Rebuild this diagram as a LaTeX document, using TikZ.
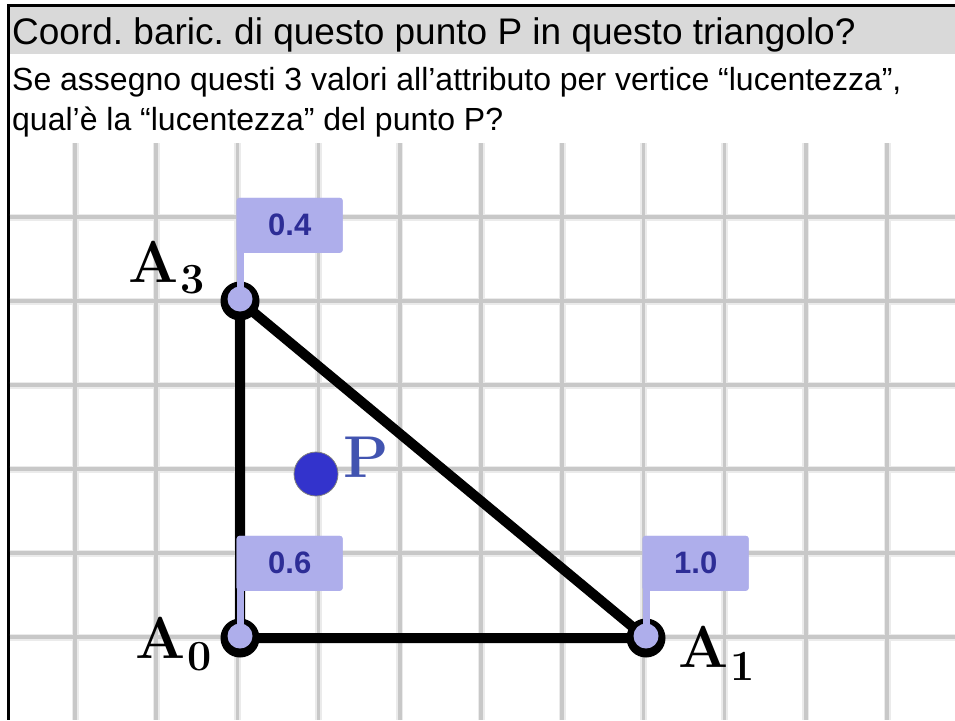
\documentclass[tikz,border=0pt]{standalone}
\usepackage{fontspec}
\newfontfamily\arialfont{Liberation Sans}
\usetikzlibrary{positioning}
\frenchspacing

\definecolor{bandgray}{RGB}{217,217,217}
\definecolor{gridgray}{RGB}{200,200,200}
\definecolor{gridhalo}{RGB}{235,235,235}
\definecolor{flagfill}{RGB}{174,174,235}
\definecolor{flagtext}{RGB}{45,45,150}
\definecolor{pdot}{RGB}{51,51,204}
\definecolor{plabel}{RGB}{66,84,176}

\tikzset{
  halo/.style={gridhalo, line width=7pt},
  gridline/.style={gridgray, line width=3.5pt},
  edge/.style={line width=10pt, line join=round},
  flag/.style={fill=flagfill, rounded corners=3pt, minimum width=106pt, minimum height=55pt,
    inner sep=0pt, text=flagtext, font=\arialfont\bfseries\fontsize{31}{32}\selectfont},
  pole/.style={flagfill, line width=7pt},
  vlabel/.style={inner sep=0pt, font=\bfseries\fontsize{59}{60}\selectfont},
  question/.style={anchor=base west, inner sep=0pt}
}

\begin{document}
\begin{tikzpicture}[x=1pt, y=-1pt]
  \useasboundingbox (0,0) rectangle (955,720);

  % Header band and frame
  \fill[bandgray] (8,7) rectangle (955,54);
  \draw[line width=3pt] (955,5) -- (8,5) -- (8,720);
  \node[question, font=\arialfont\fontsize{37}{40}\selectfont] (title) at (12,44)
    {Coord. baric. di questo punto P in questo triangolo?};
  \node[question, font=\arialfont\fontsize{32}{40}\selectfont] (line1) at (12,90)
    {Se assegno questi 3 valori all’attributo per vertice “lucentezza”,};
  \node[question, font=\arialfont\fontsize{32}{40}\selectfont] (line2) at (12,130)
    {qual’è la “lucentezza” del punto P?};

  % Grid paper
  \foreach \i in {0,...,10} {
    \draw[halo] (75+81.2*\i,143) -- (75+81.2*\i,720);
  }
  \foreach \j in {0,...,5} {
    \draw[halo] (9.5,217+84*\j) -- (955,217+84*\j);
  }
  \foreach \i in {0,...,10} {
    \draw[gridline] (75+81.2*\i,143) -- (75+81.2*\i,720);
  }
  \foreach \j in {0,...,5} {
    \draw[gridline] (9.5,217+84*\j) -- (955,217+84*\j);
  }

  % Define the vertices of the triangle
  \coordinate (A0) at (240,638);
  \coordinate (A1) at (646,638);
  \coordinate (A3) at (240,301);

  % Draw the triangle
  \draw[edge] (A0) -- (A1) -- (A3) -- cycle;
  \foreach \v in {A0,A1,A3} {
    \fill[black] (\v) circle (19.5);
  }

  % Flags with the attribute values
  \node[flag, above right=47pt and -3.5pt of A0] (f0) {0.6};
  \node[flag, above right=47pt and -3.5pt of A1] (f1) {1.0};
  \node[flag, above right=48pt and -3.5pt of A3] (f3) {0.4};
  \draw[pole] (A0) -- (A0 |- f0.center);
  \draw[pole] (A1) -- (A1 |- f1.center);
  \draw[pole] (A3) -- (A3 |- f3.center);
  \node[flag, above right=47pt and -3.5pt of A0] {0.6};
  \node[flag, above right=47pt and -3.5pt of A1] {1.0};
  \node[flag, above right=48pt and -3.5pt of A3] {0.4};
  \foreach \v in {A0,A1,A3} {
    \fill[flagfill] ([shift={(0,-2)}]\v) circle (12.5);
  }

  % Vertex labels
  \node[vlabel, anchor=base east] (l3) at ([shift={(-35,-19)}]A3)
    {A\kern2pt\raisebox{-11pt}{\fontsize{43}{43}\selectfont 3}};
  \node[vlabel, anchor=base east] (l0) at ([shift={(-28,20)}]A0)
    {A\kern2pt\raisebox{-12pt}{\fontsize{43}{43}\selectfont 0}};
  \node[vlabel, anchor=base west] (l1) at ([shift={(32,29)}]A1)
    {A\kern2pt\raisebox{-13pt}{\fontsize{43}{43}\selectfont 1}};

  % The point P
  \node[circle, fill=pdot, draw=gray, line width=0.8pt, minimum size=44pt, inner sep=0pt] (P) at (316,474) {};
  \node[vlabel, anchor=base west, text=plabel] (pl) at ([shift={(27,3)}]P.center) {P};
\end{tikzpicture}
\end{document}
